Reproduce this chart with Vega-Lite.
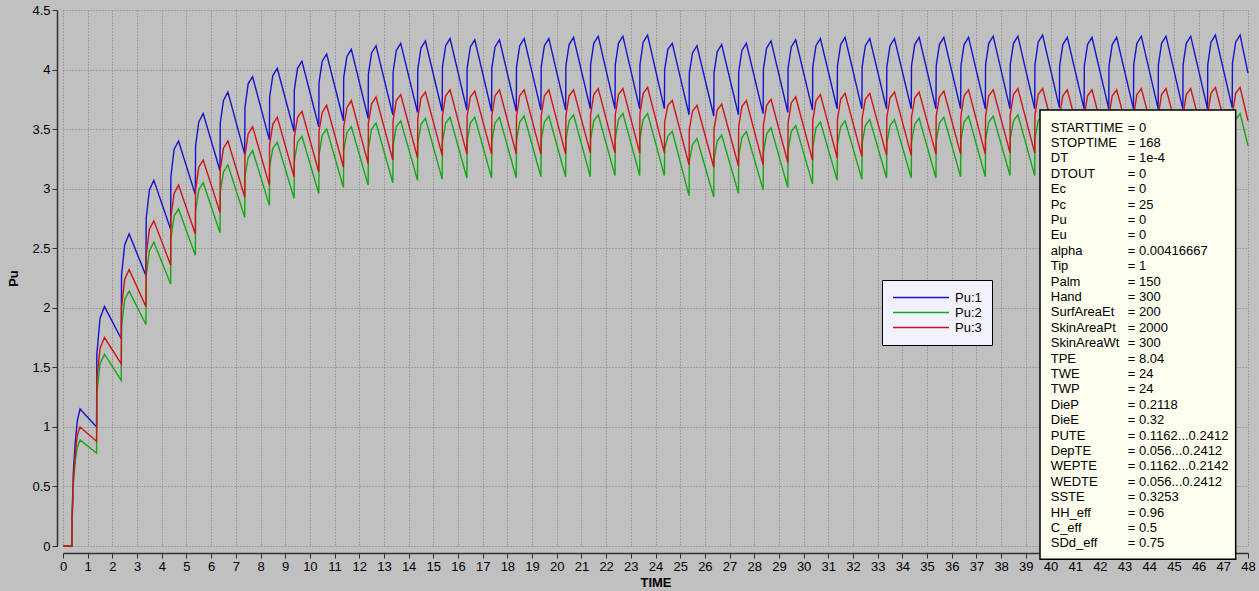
{
"$schema": "https://vega.github.io/schema/vega-lite/v6.json",
"width": 1185, "height": 536,
"autosize": {"type": "none"},
"padding": {"left": 63, "top": 10, "right": 11, "bottom": 45},
"background": "#c0c0c0",
"config": {
  "view": {"stroke": null},
  "axis": {"domainColor": "#303030", "domainWidth": 1.5, "tickColor": "#303030", "tickSize": 5, "labelColor": "#000", "labelFont": "Liberation Sans", "labelFontSize": 13, "titleFont": "Liberation Sans", "titleFontSize": 13, "titleFontWeight": "bold", "titleColor": "#000", "gridColor": "#7c7c7c", "gridDash": [1, 2], "gridOpacity": 1, "gridWidth": 1},
  "legend": {"labelFont": "Liberation Sans", "labelFontSize": 13, "labelColor": "#000"}
},
"datasets": {
"pu": [
{"t":0,"Pu:1":0,"Pu:2":0,"Pu:3":0},
{"t":0.36,"Pu:1":0,"Pu:2":0,"Pu:3":0},
{"t":0.37,"Pu:1":0.26,"Pu:2":0.2,"Pu:3":0.24},
{"t":0.42,"Pu:1":0.62,"Pu:2":0.52,"Pu:3":0.56},
{"t":0.5,"Pu:1":0.88,"Pu:2":0.72,"Pu:3":0.78},
{"t":0.58,"Pu:1":1.05,"Pu:2":0.83,"Pu:3":0.93},
{"t":0.69,"Pu:1":1.15,"Pu:2":0.89,"Pu:3":1.0},
{"t":1.36,"Pu:1":1.00,"Pu:2":0.78,"Pu:3":0.88},{"t":1.37,"Pu:1":1.61,"Pu:2":1.28,"Pu:3":1.40},{"t":1.5,"Pu:1":1.91,"Pu:2":1.53,"Pu:3":1.66},{"t":1.68,"Pu:1":2.01,"Pu:2":1.61,"Pu:3":1.75},
{"t":2.36,"Pu:1":1.74,"Pu:2":1.39,"Pu:3":1.53},{"t":2.37,"Pu:1":2.27,"Pu:2":1.84,"Pu:3":2.00},{"t":2.5,"Pu:1":2.53,"Pu:2":2.07,"Pu:3":2.24},{"t":2.68,"Pu:1":2.62,"Pu:2":2.14,"Pu:3":2.32},
{"t":3.36,"Pu:1":2.27,"Pu:2":1.86,"Pu:3":2.01},{"t":3.37,"Pu:1":2.75,"Pu:2":2.27,"Pu:3":2.44},{"t":3.5,"Pu:1":2.99,"Pu:2":2.48,"Pu:3":2.66},{"t":3.68,"Pu:1":3.07,"Pu:2":2.55,"Pu:3":2.73},
{"t":4.36,"Pu:1":2.66,"Pu:2":2.20,"Pu:3":2.36},{"t":4.37,"Pu:1":3.10,"Pu:2":2.58,"Pu:3":2.76},{"t":4.5,"Pu:1":3.33,"Pu:2":2.77,"Pu:3":2.96},{"t":4.68,"Pu:1":3.40,"Pu:2":2.83,"Pu:3":3.03},
{"t":5.36,"Pu:1":2.95,"Pu:2":2.44,"Pu:3":2.62},{"t":5.37,"Pu:1":3.36,"Pu:2":2.81,"Pu:3":2.99},{"t":5.5,"Pu:1":3.56,"Pu:2":2.99,"Pu:3":3.18},{"t":5.68,"Pu:1":3.63,"Pu:2":3.05,"Pu:3":3.24},
{"t":6.36,"Pu:1":3.15,"Pu:2":2.63,"Pu:3":2.80},{"t":6.37,"Pu:1":3.55,"Pu:2":2.97,"Pu:3":3.16},{"t":6.5,"Pu:1":3.74,"Pu:2":3.14,"Pu:3":3.34},{"t":6.68,"Pu:1":3.81,"Pu:2":3.20,"Pu:3":3.40},
{"t":7.36,"Pu:1":3.29,"Pu:2":2.76,"Pu:3":2.93},{"t":7.37,"Pu:1":3.68,"Pu:2":3.10,"Pu:3":3.28},{"t":7.5,"Pu:1":3.88,"Pu:2":3.26,"Pu:3":3.46},{"t":7.68,"Pu:1":3.94,"Pu:2":3.32,"Pu:3":3.52},
{"t":8.36,"Pu:1":3.41,"Pu:2":2.86,"Pu:3":3.03},{"t":8.37,"Pu:1":3.77,"Pu:2":3.18,"Pu:3":3.37},{"t":8.5,"Pu:1":3.95,"Pu:2":3.34,"Pu:3":3.54},{"t":8.68,"Pu:1":4.01,"Pu:2":3.39,"Pu:3":3.60},
{"t":9.36,"Pu:1":3.48,"Pu:2":2.92,"Pu:3":3.10},{"t":9.37,"Pu:1":3.83,"Pu:2":3.23,"Pu:3":3.43},{"t":9.5,"Pu:1":4.01,"Pu:2":3.39,"Pu:3":3.60},{"t":9.68,"Pu:1":4.07,"Pu:2":3.44,"Pu:3":3.65},
{"t":10.36,"Pu:1":3.52,"Pu:2":2.96,"Pu:3":3.14},{"t":10.37,"Pu:1":3.89,"Pu:2":3.28,"Pu:3":3.48},{"t":10.5,"Pu:1":4.07,"Pu:2":3.45,"Pu:3":3.64},{"t":10.68,"Pu:1":4.13,"Pu:2":3.50,"Pu:3":3.70},
{"t":11.36,"Pu:1":3.57,"Pu:2":3.01,"Pu:3":3.18},{"t":11.37,"Pu:1":3.93,"Pu:2":3.32,"Pu:3":3.52},{"t":11.5,"Pu:1":4.11,"Pu:2":3.47,"Pu:3":3.68},{"t":11.68,"Pu:1":4.17,"Pu:2":3.52,"Pu:3":3.74},
{"t":12.36,"Pu:1":3.59,"Pu:2":3.03,"Pu:3":3.21},{"t":12.37,"Pu:1":3.96,"Pu:2":3.34,"Pu:3":3.55},{"t":12.5,"Pu:1":4.14,"Pu:2":3.50,"Pu:3":3.71},{"t":12.68,"Pu:1":4.20,"Pu:2":3.55,"Pu:3":3.77},
{"t":13.36,"Pu:1":3.62,"Pu:2":3.05,"Pu:3":3.24},{"t":13.37,"Pu:1":3.98,"Pu:2":3.36,"Pu:3":3.57},{"t":13.5,"Pu:1":4.16,"Pu:2":3.52,"Pu:3":3.74},{"t":13.68,"Pu:1":4.22,"Pu:2":3.57,"Pu:3":3.79},
{"t":14.36,"Pu:1":3.64,"Pu:2":3.07,"Pu:3":3.26},{"t":14.37,"Pu:1":4.00,"Pu:2":3.38,"Pu:3":3.59},{"t":14.5,"Pu:1":4.18,"Pu:2":3.54,"Pu:3":3.76},{"t":14.68,"Pu:1":4.24,"Pu:2":3.59,"Pu:3":3.81},
{"t":15.36,"Pu:1":3.65,"Pu:2":3.08,"Pu:3":3.28},{"t":15.37,"Pu:1":4.02,"Pu:2":3.39,"Pu:3":3.61},{"t":15.5,"Pu:1":4.20,"Pu:2":3.55,"Pu:3":3.78},{"t":15.68,"Pu:1":4.26,"Pu:2":3.60,"Pu:3":3.83},
{"t":16.36,"Pu:1":3.66,"Pu:2":3.09,"Pu:3":3.29},{"t":16.37,"Pu:1":4.01,"Pu:2":3.40,"Pu:3":3.61},{"t":16.5,"Pu:1":4.19,"Pu:2":3.55,"Pu:3":3.77},{"t":16.68,"Pu:1":4.25,"Pu:2":3.60,"Pu:3":3.82},
{"t":17.36,"Pu:1":3.65,"Pu:2":3.09,"Pu:3":3.29},{"t":17.37,"Pu:1":4.01,"Pu:2":3.40,"Pu:3":3.61},{"t":17.5,"Pu:1":4.19,"Pu:2":3.55,"Pu:3":3.78},{"t":17.68,"Pu:1":4.25,"Pu:2":3.60,"Pu:3":3.83},
{"t":18.36,"Pu:1":3.65,"Pu:2":3.09,"Pu:3":3.29},{"t":18.37,"Pu:1":4.02,"Pu:2":3.40,"Pu:3":3.61},{"t":18.5,"Pu:1":4.20,"Pu:2":3.56,"Pu:3":3.78},{"t":18.68,"Pu:1":4.26,"Pu:2":3.61,"Pu:3":3.83},
{"t":19.36,"Pu:1":3.66,"Pu:2":3.10,"Pu:3":3.29},{"t":19.37,"Pu:1":4.02,"Pu:2":3.41,"Pu:3":3.61},{"t":19.5,"Pu:1":4.20,"Pu:2":3.56,"Pu:3":3.78},{"t":19.68,"Pu:1":4.26,"Pu:2":3.61,"Pu:3":3.83},
{"t":20.36,"Pu:1":3.66,"Pu:2":3.10,"Pu:3":3.29},{"t":20.37,"Pu:1":4.03,"Pu:2":3.41,"Pu:3":3.61},{"t":20.5,"Pu:1":4.21,"Pu:2":3.57,"Pu:3":3.78},{"t":20.68,"Pu:1":4.27,"Pu:2":3.62,"Pu:3":3.83},
{"t":21.36,"Pu:1":3.67,"Pu:2":3.10,"Pu:3":3.30},{"t":21.37,"Pu:1":4.04,"Pu:2":3.41,"Pu:3":3.62},{"t":21.5,"Pu:1":4.22,"Pu:2":3.57,"Pu:3":3.79},{"t":21.68,"Pu:1":4.28,"Pu:2":3.62,"Pu:3":3.84},
{"t":22.36,"Pu:1":3.67,"Pu:2":3.11,"Pu:3":3.30},{"t":22.37,"Pu:1":4.04,"Pu:2":3.42,"Pu:3":3.62},{"t":22.5,"Pu:1":4.22,"Pu:2":3.58,"Pu:3":3.79},{"t":22.68,"Pu:1":4.28,"Pu:2":3.63,"Pu:3":3.84},
{"t":23.36,"Pu:1":3.67,"Pu:2":3.11,"Pu:3":3.30},{"t":23.37,"Pu:1":4.04,"Pu:2":3.42,"Pu:3":3.63},{"t":23.5,"Pu:1":4.23,"Pu:2":3.58,"Pu:3":3.80},{"t":23.68,"Pu:1":4.29,"Pu:2":3.63,"Pu:3":3.85},
{"t":24.36,"Pu:1":3.67,"Pu:2":3.11,"Pu:3":3.30},{"t":24.37,"Pu:1":4.00,"Pu:2":3.33,"Pu:3":3.56},{"t":24.5,"Pu:1":4.17,"Pu:2":3.44,"Pu:3":3.70},{"t":24.68,"Pu:1":4.22,"Pu:2":3.48,"Pu:3":3.74},
{"t":25.36,"Pu:1":3.62,"Pu:2":2.94,"Pu:3":3.20},{"t":25.37,"Pu:1":3.97,"Pu:2":3.23,"Pu:3":3.50},{"t":25.5,"Pu:1":4.14,"Pu:2":3.37,"Pu:3":3.65},{"t":25.68,"Pu:1":4.20,"Pu:2":3.42,"Pu:3":3.70},
{"t":26.36,"Pu:1":3.61,"Pu:2":2.93,"Pu:3":3.18},{"t":26.37,"Pu:1":3.97,"Pu:2":3.24,"Pu:3":3.50},{"t":26.5,"Pu:1":4.15,"Pu:2":3.40,"Pu:3":3.66},{"t":26.68,"Pu:1":4.21,"Pu:2":3.45,"Pu:3":3.71},
{"t":27.36,"Pu:1":3.62,"Pu:2":2.96,"Pu:3":3.19},{"t":27.37,"Pu:1":3.98,"Pu:2":3.27,"Pu:3":3.52},{"t":27.5,"Pu:1":4.16,"Pu:2":3.43,"Pu:3":3.69},{"t":27.68,"Pu:1":4.22,"Pu:2":3.48,"Pu:3":3.74},
{"t":28.36,"Pu:1":3.63,"Pu:2":2.99,"Pu:3":3.20},{"t":28.37,"Pu:1":4.00,"Pu:2":3.30,"Pu:3":3.53},{"t":28.5,"Pu:1":4.18,"Pu:2":3.46,"Pu:3":3.70},{"t":28.68,"Pu:1":4.24,"Pu:2":3.51,"Pu:3":3.75},
{"t":29.36,"Pu:1":3.64,"Pu:2":3.01,"Pu:3":3.22},{"t":29.37,"Pu:1":4.01,"Pu:2":3.32,"Pu:3":3.55},{"t":29.5,"Pu:1":4.19,"Pu:2":3.48,"Pu:3":3.72},{"t":29.68,"Pu:1":4.25,"Pu:2":3.53,"Pu:3":3.77},
{"t":30.36,"Pu:1":3.66,"Pu:2":3.04,"Pu:3":3.24},{"t":30.37,"Pu:1":4.02,"Pu:2":3.35,"Pu:3":3.57},{"t":30.5,"Pu:1":4.20,"Pu:2":3.51,"Pu:3":3.74},{"t":30.68,"Pu:1":4.26,"Pu:2":3.56,"Pu:3":3.79},
{"t":31.36,"Pu:1":3.67,"Pu:2":3.07,"Pu:3":3.26},{"t":31.37,"Pu:1":4.03,"Pu:2":3.37,"Pu:3":3.58},{"t":31.5,"Pu:1":4.21,"Pu:2":3.52,"Pu:3":3.75},{"t":31.68,"Pu:1":4.27,"Pu:2":3.57,"Pu:3":3.80},
{"t":32.36,"Pu:1":3.67,"Pu:2":3.08,"Pu:3":3.27},{"t":32.37,"Pu:1":4.02,"Pu:2":3.38,"Pu:3":3.59},{"t":32.5,"Pu:1":4.20,"Pu:2":3.53,"Pu:3":3.75},{"t":32.68,"Pu:1":4.26,"Pu:2":3.58,"Pu:3":3.80},
{"t":33.36,"Pu:1":3.67,"Pu:2":3.09,"Pu:3":3.28},{"t":33.37,"Pu:1":4.02,"Pu:2":3.38,"Pu:3":3.60},{"t":33.5,"Pu:1":4.20,"Pu:2":3.53,"Pu:3":3.76},{"t":33.68,"Pu:1":4.26,"Pu:2":3.58,"Pu:3":3.81},
{"t":34.36,"Pu:1":3.67,"Pu:2":3.09,"Pu:3":3.28},{"t":34.37,"Pu:1":4.03,"Pu:2":3.39,"Pu:3":3.60},{"t":34.5,"Pu:1":4.21,"Pu:2":3.54,"Pu:3":3.76},{"t":34.68,"Pu:1":4.27,"Pu:2":3.59,"Pu:3":3.81},
{"t":35.36,"Pu:1":3.67,"Pu:2":3.09,"Pu:3":3.29},{"t":35.37,"Pu:1":4.03,"Pu:2":3.40,"Pu:3":3.61},{"t":35.5,"Pu:1":4.21,"Pu:2":3.55,"Pu:3":3.77},{"t":35.68,"Pu:1":4.27,"Pu:2":3.60,"Pu:3":3.82},
{"t":36.36,"Pu:1":3.67,"Pu:2":3.10,"Pu:3":3.29},{"t":36.37,"Pu:1":4.03,"Pu:2":3.41,"Pu:3":3.61},{"t":36.5,"Pu:1":4.21,"Pu:2":3.56,"Pu:3":3.78},{"t":36.68,"Pu:1":4.27,"Pu:2":3.61,"Pu:3":3.83},
{"t":37.36,"Pu:1":3.67,"Pu:2":3.10,"Pu:3":3.29},{"t":37.37,"Pu:1":4.04,"Pu:2":3.41,"Pu:3":3.61},{"t":37.5,"Pu:1":4.22,"Pu:2":3.56,"Pu:3":3.78},{"t":37.68,"Pu:1":4.28,"Pu:2":3.61,"Pu:3":3.83},
{"t":38.36,"Pu:1":3.67,"Pu:2":3.11,"Pu:3":3.30},{"t":38.37,"Pu:1":4.04,"Pu:2":3.42,"Pu:3":3.62},{"t":38.5,"Pu:1":4.22,"Pu:2":3.57,"Pu:3":3.79},{"t":38.68,"Pu:1":4.28,"Pu:2":3.62,"Pu:3":3.84},
{"t":39.36,"Pu:1":3.67,"Pu:2":3.11,"Pu:3":3.30},{"t":39.37,"Pu:1":4.04,"Pu:2":3.42,"Pu:3":3.62},{"t":39.5,"Pu:1":4.23,"Pu:2":3.57,"Pu:3":3.79},{"t":39.68,"Pu:1":4.29,"Pu:2":3.62,"Pu:3":3.84},
{"t":40.36,"Pu:1":3.68,"Pu:2":3.11,"Pu:3":3.30},{"t":40.37,"Pu:1":4.03,"Pu:2":3.41,"Pu:3":3.62},{"t":40.5,"Pu:1":4.21,"Pu:2":3.56,"Pu:3":3.78},{"t":40.68,"Pu:1":4.27,"Pu:2":3.61,"Pu:3":3.83},
{"t":41.36,"Pu:1":3.67,"Pu:2":3.10,"Pu:3":3.29},{"t":41.37,"Pu:1":4.03,"Pu:2":3.41,"Pu:3":3.61},{"t":41.5,"Pu:1":4.21,"Pu:2":3.56,"Pu:3":3.78},{"t":41.68,"Pu:1":4.27,"Pu:2":3.61,"Pu:3":3.83},
{"t":42.36,"Pu:1":3.67,"Pu:2":3.10,"Pu:3":3.29},{"t":42.37,"Pu:1":4.03,"Pu:2":3.41,"Pu:3":3.61},{"t":42.5,"Pu:1":4.21,"Pu:2":3.57,"Pu:3":3.78},{"t":42.68,"Pu:1":4.27,"Pu:2":3.62,"Pu:3":3.83},
{"t":43.36,"Pu:1":3.67,"Pu:2":3.11,"Pu:3":3.30},{"t":43.37,"Pu:1":4.04,"Pu:2":3.42,"Pu:3":3.62},{"t":43.5,"Pu:1":4.22,"Pu:2":3.57,"Pu:3":3.79},{"t":43.68,"Pu:1":4.28,"Pu:2":3.62,"Pu:3":3.84},
{"t":44.36,"Pu:1":3.67,"Pu:2":3.11,"Pu:3":3.30},{"t":44.37,"Pu:1":4.04,"Pu:2":3.42,"Pu:3":3.62},{"t":44.5,"Pu:1":4.22,"Pu:2":3.57,"Pu:3":3.79},{"t":44.68,"Pu:1":4.28,"Pu:2":3.62,"Pu:3":3.84},
{"t":45.36,"Pu:1":3.67,"Pu:2":3.11,"Pu:3":3.30},{"t":45.37,"Pu:1":4.04,"Pu:2":3.42,"Pu:3":3.62},{"t":45.5,"Pu:1":4.22,"Pu:2":3.58,"Pu:3":3.79},{"t":45.68,"Pu:1":4.28,"Pu:2":3.63,"Pu:3":3.84},
{"t":46.36,"Pu:1":3.67,"Pu:2":3.12,"Pu:3":3.30},{"t":46.37,"Pu:1":4.04,"Pu:2":3.43,"Pu:3":3.63},{"t":46.5,"Pu:1":4.23,"Pu:2":3.58,"Pu:3":3.80},{"t":46.68,"Pu:1":4.29,"Pu:2":3.63,"Pu:3":3.85},
{"t":47.36,"Pu:1":3.68,"Pu:2":3.12,"Pu:3":3.31},{"t":47.37,"Pu:1":4.05,"Pu:2":3.43,"Pu:3":3.63},{"t":47.5,"Pu:1":4.23,"Pu:2":3.58,"Pu:3":3.80},{"t":47.68,"Pu:1":4.29,"Pu:2":3.63,"Pu:3":3.85},
{"t":48,"Pu:1":3.97,"Pu:2":3.36,"Pu:3":3.57}
],
"params": [
{"name":"STARTTIME","value":"= 0"},
{"name":"STOPTIME","value":"= 168"},
{"name":"DT","value":"= 1e-4"},
{"name":"DTOUT","value":"= 0"},
{"name":"Ec","value":"= 0"},
{"name":"Pc","value":"= 25"},
{"name":"Pu","value":"= 0"},
{"name":"Eu","value":"= 0"},
{"name":"alpha","value":"= 0.00416667"},
{"name":"Tip","value":"= 1"},
{"name":"Palm","value":"= 150"},
{"name":"Hand","value":"= 300"},
{"name":"SurfAreaEt","value":"= 200"},
{"name":"SkinAreaPt","value":"= 2000"},
{"name":"SkinAreaWt","value":"= 300"},
{"name":"TPE","value":"= 8.04"},
{"name":"TWE","value":"= 24"},
{"name":"TWP","value":"= 24"},
{"name":"DieP","value":"= 0.2118"},
{"name":"DieE","value":"= 0.32"},
{"name":"PUTE","value":"= 0.1162...0.2412"},
{"name":"DepTE","value":"= 0.056...0.2412"},
{"name":"WEPTE","value":"= 0.1162...0.2142"},
{"name":"WEDTE","value":"= 0.056...0.2412"},
{"name":"SSTE","value":"= 0.3253"},
{"name":"HH_eff","value":"= 0.96"},
{"name":"C_eff","value":"= 0.5"},
{"name":"SDd_eff","value":"= 0.75"}
]
},
"layer": [
  {"data": {"name": "pu"},
   "transform": [{"fold": ["Pu:1", "Pu:2", "Pu:3"], "as": ["series", "value"]}],
   "mark": {"type": "line", "strokeWidth": 1.4},
   "encoding": {
     "x": {"field": "t", "type": "quantitative", "scale": {"domain": [0, 48], "nice": false, "zero": false},
           "axis": {"title": "TIME", "offset": 7, "tickCount": 48, "labelFlush": false, "labelBound": false, "labelOverlap": false, "labelPadding": 2, "titlePadding": 3}},
     "y": {"field": "value", "type": "quantitative", "scale": {"domain": [0, 4.5], "nice": false},
           "axis": {"title": "Pu", "offset": 6, "tickCount": 9, "format": "~g", "labelOverlap": false, "labelPadding": 2, "titlePadding": 11}},
     "color": {"field": "series", "type": "nominal",
               "scale": {"domain": ["Pu:1", "Pu:2", "Pu:3"], "range": ["#1414cc", "#14a814", "#d01414"]},
               "legend": {"orient": "none", "legendX": 819, "legendY": 270, "title": null, "symbolType": "stroke", "symbolSize": 3136, "symbolStrokeWidth": 1.5, "clipHeight": 15, "rowPadding": 0, "labelOffset": 5, "padding": 10, "fillColor": "#f2f2ff", "strokeColor": "#000000"}}
   }},
  {"data": {"values": [{}]},
   "mark": {"type": "rect", "fill": "#ffffef", "stroke": "#000000", "strokeWidth": 1.5},
   "encoding": {
     "x": {"datum": 39.575, "type": "quantitative"},
     "x2": {"datum": 47.5},
     "y": {"datum": 3.66, "type": "quantitative", "scale": {"domain": [0, 4.5], "nice": false}, "axis": null},
     "y2": {"datum": -0.112}
   }},
  {"data": {"name": "params"},
   "mark": {"type": "text", "align": "left", "baseline": "middle", "font": "Liberation Sans", "fontSize": 13, "color": "#000000"},
   "encoding": {
     "x": {"datum": 40.01, "type": "quantitative"},
     "y": {"field": "name", "type": "nominal", "sort": null, "axis": null, "scale": {"type": "point", "padding": 0, "range": [117.5, 533.3]}},
     "text": {"field": "name"}}},
  {"data": {"name": "params"},
   "mark": {"type": "text", "align": "left", "baseline": "middle", "font": "Liberation Sans", "fontSize": 13, "color": "#000000"},
   "encoding": {
     "x": {"datum": 43.13, "type": "quantitative"},
     "y": {"field": "name", "type": "nominal", "sort": null, "axis": null, "scale": {"type": "point", "padding": 0, "range": [117.5, 533.3]}},
     "text": {"field": "value"}}}
],
"resolve": {"scale": {"y": "independent"}}
}
